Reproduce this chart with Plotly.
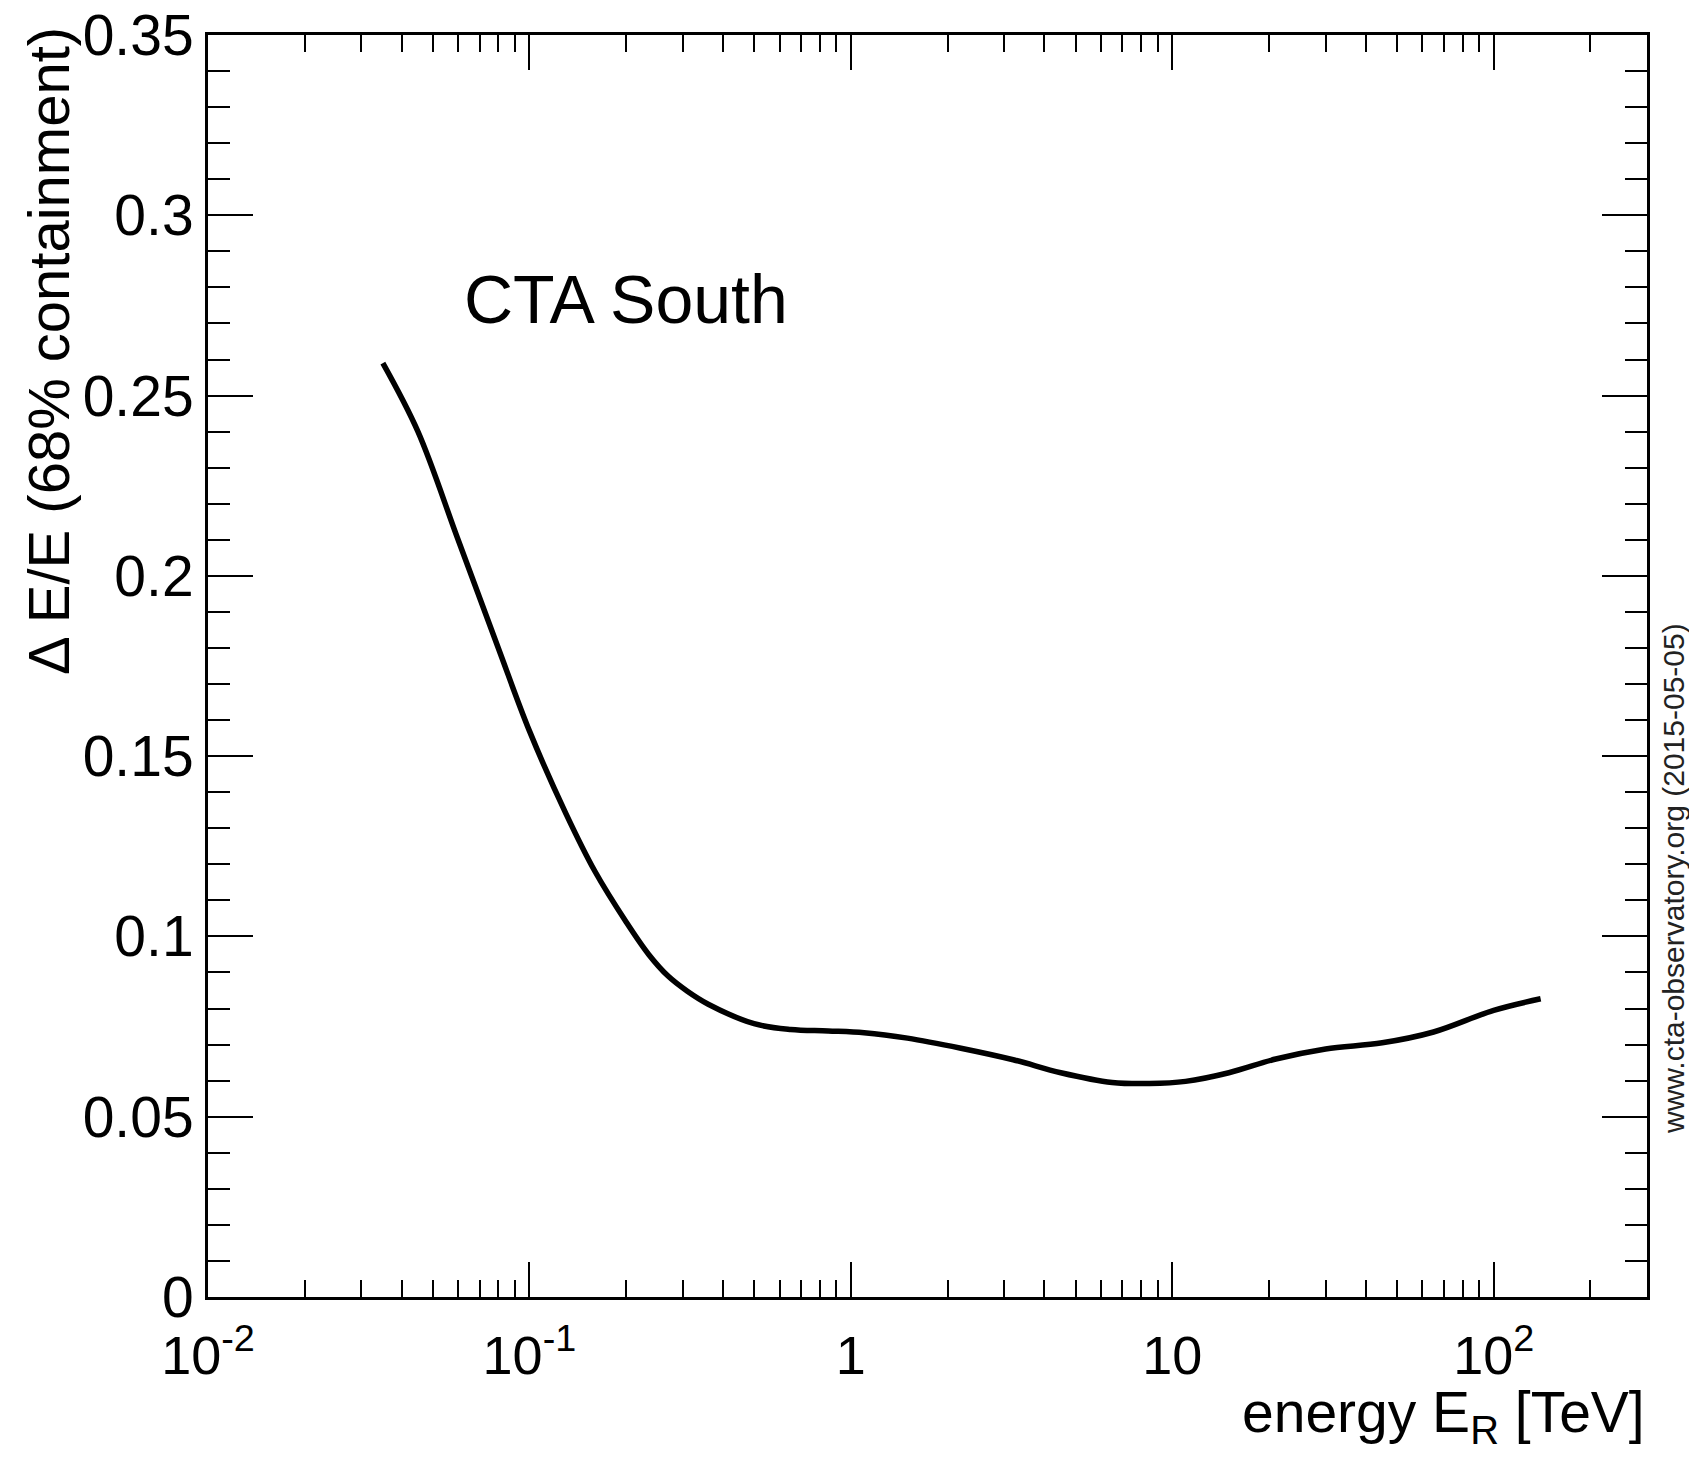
import plotly.graph_objects as go

# Data
energy_tev = [0.035, 0.045, 0.06, 0.08, 0.1, 0.13, 0.16, 0.2, 0.235, 0.27, 0.31, 0.36,
              0.5, 0.65, 0.85, 1.1, 1.5, 2.2, 3.2, 4.5, 6.5, 8.5, 11, 15, 21, 30, 45,
              65, 100, 140]
resolution = [0.259, 0.240, 0.210, 0.180, 0.157, 0.134, 0.118, 0.104, 0.0950, 0.0890,
              0.0848, 0.0812, 0.0758, 0.0742, 0.0738, 0.0733, 0.0718, 0.0690, 0.0658,
              0.0622, 0.0595, 0.0592, 0.0598, 0.0622, 0.0660, 0.0688, 0.0705, 0.0735,
              0.0795, 0.0827]

x_major = [0.01, 0.1, 1, 10, 100]
x_major_text = ["10<sup>-2</sup>", "10<sup>-1</sup>", "1", "10", "10<sup>2</sup>"]
x_minor = [m * d for d in [0.01, 0.1, 1, 10, 100] for m in range(2, 10) if m * d < 300]
y_major = [0, 0.05, 0.1, 0.15, 0.2, 0.25, 0.3, 0.35]
y_major_text = ["0", "0.05", "0.1", "0.15", "0.2", "0.25", "0.3", "0.35"]

FONT = "Liberation Sans, Arial, sans-serif"

# page body has an 8px margin -> figure sized/offset so the page does not overflow
W, H = 1681, 1444
L, R, T, B = 200, 42, 27, 155
PW, PH = W - L - R, H - T - B

fig = go.Figure()
fig.add_trace(go.Scatter(x=energy_tev, y=resolution, mode="lines",
                         line=dict(color="black", width=5.5, shape="spline", smoothing=1.0),
                         showlegend=False, hoverinfo="skip"))

fig.update_layout(
    width=W, height=H,
    margin=dict(l=L, r=R, t=T, b=B, pad=0, autoexpand=False),
    paper_bgcolor="white", plot_bgcolor="white",
    font=dict(family=FONT, color="black", size=57),
    xaxis=dict(type="log", range=[-2, 2.477], showgrid=False, zeroline=False,
               automargin=False,
               showline=True, linecolor="black", linewidth=3, mirror="ticks",
               ticks="inside", ticklen=35, tickwidth=2, tickcolor="black",
               tickmode="array", tickvals=x_major, ticktext=x_major_text,
               tickfont=dict(size=54, family=FONT), ticklabelstandoff=9,
               ticklabeloverflow="allow",
               minor=dict(tickmode="array", tickvals=x_minor, ticks="inside",
                          ticklen=17, tickwidth=2, tickcolor="black", showgrid=False)),
    yaxis=dict(range=[0, 0.35], showgrid=False, zeroline=False,
               automargin=False,
               showline=True, linecolor="black", linewidth=3, mirror="ticks",
               ticks="inside", ticklen=45, tickwidth=2, tickcolor="black",
               tickmode="array", tickvals=y_major, ticktext=y_major_text,
               tickfont=dict(size=57, family=FONT), ticklabelstandoff=0,
               ticklabeloverflow="allow",
               minor=dict(dtick=0.01, ticks="inside", ticklen=22, tickwidth=2,
                          tickcolor="black", showgrid=False)),
)

fig.add_annotation(text="energy E<sub>R</sub> [TeV]", xref="paper", yref="paper",
                   x=1.0, y=-0.064, xanchor="right", yanchor="top", showarrow=False,
                   font=dict(size=57, family=FONT, color="black"))
fig.add_annotation(text="Δ E/E (68% containment)", xref="paper", yref="paper",
                   x=-0.0865, y=1.008, xanchor="right", yanchor="top", textangle=-90,
                   showarrow=False, font=dict(size=58, family=FONT, color="black"))
fig.add_annotation(text="CTA South", xref="paper", yref="paper",
                   x=0.1765, y=0.7908, xanchor="left", yanchor="middle",
                   showarrow=False, font=dict(size=68, family=FONT, color="black"))
fig.add_annotation(text="www.cta-observatory.org (2015-05-05)", xref="paper", yref="paper",
                   x=1.0 + 26 / PW, y=(1289 - 871) / PH, xanchor="center",
                   yanchor="middle", textangle=-90, showarrow=False,
                   font=dict(size=30, family=FONT, color="#222222"))

fig.write_html("out.html")
